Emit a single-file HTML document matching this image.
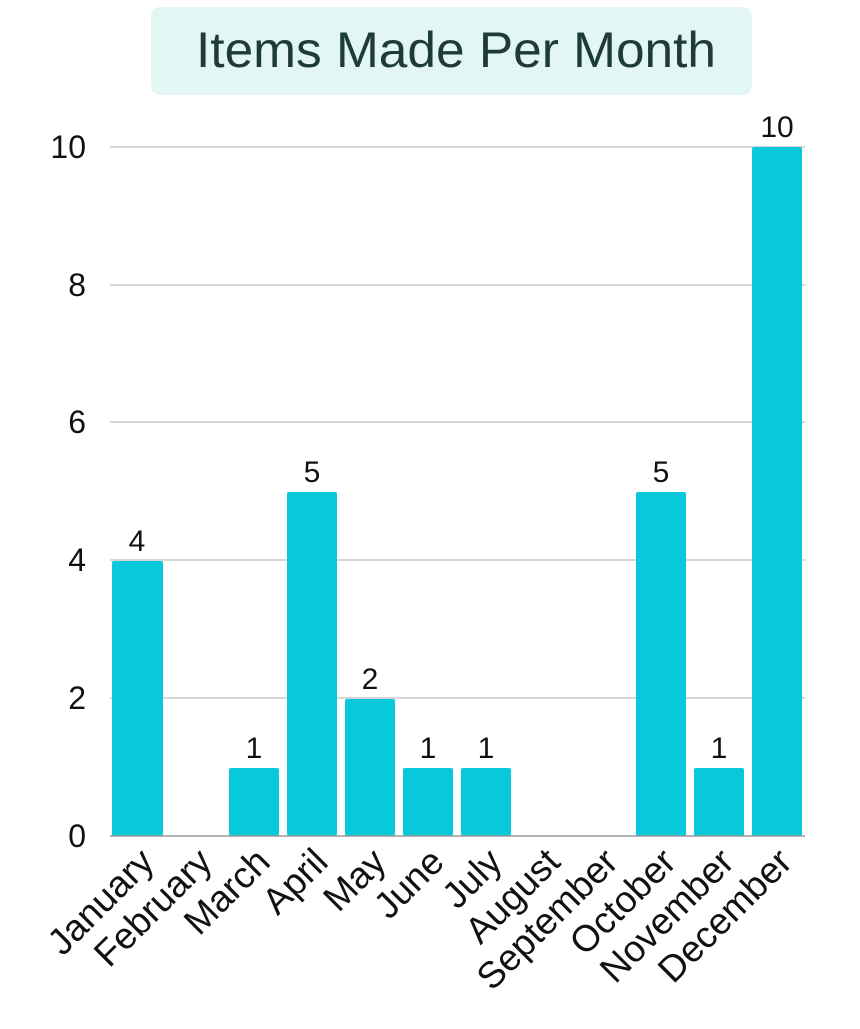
<!DOCTYPE html>
<html><head><style>html,body{margin:0;padding:0;background:#fff}</style></head>
<body>
<svg width="860" height="1024" xmlns="http://www.w3.org/2000/svg" font-family="Liberation Sans, sans-serif">
<rect x="151" y="7" width="601" height="88" rx="9" fill="#e2f6f4"/>
<text x="456" y="67" font-size="50" fill="#1d3b3a" text-anchor="middle" textLength="520" lengthAdjust="spacingAndGlyphs">Items Made Per Month</text>
<g stroke="#c8c8c8" stroke-width="1.5">
<line x1="110" y1="147" x2="805" y2="147"/>
<line x1="110" y1="285" x2="805" y2="285"/>
<line x1="110" y1="422" x2="805" y2="422"/>
<line x1="110" y1="560" x2="805" y2="560"/>
<line x1="110" y1="698" x2="805" y2="698"/>
</g>
<g font-size="32" fill="#111" text-anchor="end">
<text x="86" y="158">10</text>
<text x="86" y="296">8</text>
<text x="86" y="433">6</text>
<text x="86" y="571">4</text>
<text x="86" y="709">2</text>
<text x="86" y="847">0</text>
</g>
<g fill="#08c9d9">
<rect x="112" y="561" width="51" height="275" rx="2"/>
<rect x="229" y="768" width="50" height="68" rx="2"/>
<rect x="287" y="492" width="50" height="344" rx="2"/>
<rect x="345" y="699" width="50" height="137" rx="2"/>
<rect x="403" y="768" width="50" height="68" rx="2"/>
<rect x="461" y="768" width="50" height="68" rx="2"/>
<rect x="636" y="492" width="50" height="344" rx="2"/>
<rect x="694" y="768" width="50" height="68" rx="2"/>
<rect x="752" y="147" width="50" height="689" rx="2"/>
</g>
<line x1="110" y1="836" x2="805" y2="836" stroke="#999" stroke-width="1.5"/>
<g font-size="30" fill="#111" text-anchor="middle">
<text x="137" y="551">4</text>
<text x="254" y="758">1</text>
<text x="312" y="482">5</text>
<text x="370" y="689">2</text>
<text x="428" y="758">1</text>
<text x="486" y="758">1</text>
<text x="661" y="482">5</text>
<text x="719" y="758">1</text>
<text x="777" y="137">10</text>
</g>
<g font-size="37" fill="#111" text-anchor="end">
<text transform="translate(156,864) rotate(-45)">January</text>
<text transform="translate(214,864) rotate(-45)">February</text>
<text transform="translate(272,864) rotate(-45)">March</text>
<text transform="translate(330,864) rotate(-45)">April</text>
<text transform="translate(388,864) rotate(-45)">May</text>
<text transform="translate(446,864) rotate(-45)">June</text>
<text transform="translate(504,864) rotate(-45)">July</text>
<text transform="translate(562,864) rotate(-45)">August</text>
<text transform="translate(620,864) rotate(-45)">September</text>
<text transform="translate(678,864) rotate(-45)">October</text>
<text transform="translate(736,864) rotate(-45)">November</text>
<text transform="translate(794,864) rotate(-45)">December</text>
</g>
</svg>
</body></html>
